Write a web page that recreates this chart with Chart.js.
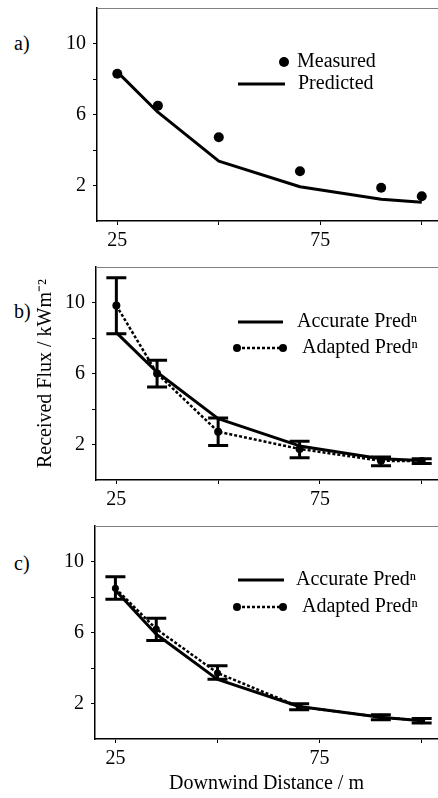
<!DOCTYPE html>
<html><head><meta charset="utf-8">
<script src="https://cdn.jsdelivr.net/npm/chart.js@4"></script>
<style>
html,body{margin:0;padding:0;background:#fff;}
body{width:438px;height:798px;position:relative;overflow:hidden;font-family:'Liberation Serif','Times New Roman',serif;}
.lbl{position:absolute;font-size:20px;line-height:24px;color:#000;}
canvas{position:absolute;left:0;}
</style></head><body>
<div class="lbl" style="left:14px;top:31px">a)</div>
<div class="lbl" style="left:14px;top:299px">b)</div>
<div class="lbl" style="left:14px;top:551px">c)</div>
<canvas id="ca" width="438" height="250" style="top:0px"></canvas>
<canvas id="cb" width="438" height="260" style="top:250px"></canvas>
<canvas id="cc" width="438" height="288" style="top:510px"></canvas>
<script>
// ---- data ----
const distances = [25, 35, 50, 70, 90, 100];
const measuredA = [8.3, 6.5, 4.72, 2.8, 1.87, 1.39];
const predictedA = [8.4, 6.13, 3.37, 1.93, 1.22, 1.06];
const accurateB = [8.3, 6.07, 3.46, 1.92, 1.2, 1.1];
const adaptedB = [9.83, 6.0, 2.72, 1.75, 1.08, 1.07];
const errLowB = [8.24, 5.24, 1.95, 1.25, 0.8, 0.93];
const errHighB = [11.4, 6.74, 3.5, 2.19, 1.29, 1.2];
const accurateC = [8.38, 5.9, 3.36, 1.83, 1.22, 1.03];
const adaptedC = [8.49, 6.2, 3.72, 1.82, 1.23, 1.03];
const errLowC = [7.88, 5.55, 3.36, 1.65, 1.09, 0.9];
const errHighC = [9.14, 6.8, 4.12, 1.98, 1.37, 1.16];
const xTickValues = [25, 50, 75, 100];
const xTickLabels = ['25', '', '75', ''];
const yTickValues = [2, 4, 6, 8, 10];
const yTickLabels = ['2', '', '6', '', '10'];
const seriesLabels = {measured: 'Measured', predicted: 'Predicted', accurate: 'Accurate Pred\u207F', adapted: 'Adapted Pred\u207F'};
const yTitle = 'Received Flux / kWm\u207B\u00B2';
const xTitle = 'Downwind Distance / m';

const FONT = {family: "'Liberation Serif', 'Times New Roman', serif", size: 20};
const pts = arr => distances.map((d, i) => ({x: d, y: arr[i]}));

const errorBarPlugin = {
  id: 'errorBars',
  afterDatasetsDraw(chart) {
    const {ctx, scales: {x, y}} = chart;
    chart.data.datasets.forEach(ds => {
      if (!ds.errorLow) return;
      ctx.save();
      ctx.strokeStyle = '#000'; ctx.lineWidth = 3; ctx.lineCap = 'butt';
      ds.data.forEach((p, i) => {
        const px = x.getPixelForValue(p.x);
        const pl = y.getPixelForValue(ds.errorLow[i]);
        const ph = y.getPixelForValue(ds.errorHigh[i]);
        ctx.beginPath();
        ctx.moveTo(px, pl); ctx.lineTo(px, ph);
        ctx.moveTo(px - 10, pl); ctx.lineTo(px + 10, pl);
        ctx.moveTo(px - 10, ph); ctx.lineTo(px + 10, ph);
        ctx.stroke();
      });
      ctx.restore();
    });
  }
};

const topBorderPlugin = {
  id: 'topBorder',
  afterDraw(chart) {
    const {ctx, chartArea: a} = chart;
    ctx.save(); ctx.strokeStyle = '#808080'; ctx.lineWidth = 1;
    ctx.beginPath(); ctx.moveTo(a.left, a.top + 0.5); ctx.lineTo(a.right, a.top + 0.5); ctx.stroke();
    ctx.restore();
  }
};

function legendPlugin(items) {
  return {
    id: 'customLegend',
    afterDraw(chart) {
      const ctx = chart.ctx;
      ctx.save();
      ctx.font = "20px 'Liberation Serif', 'Times New Roman', serif";
      ctx.fillStyle = '#000'; ctx.strokeStyle = '#000'; ctx.textBaseline = 'middle'; ctx.textAlign = 'left';
      items.forEach(it => {
        const label = chart.data.datasets[it.ds].label;
        if (it.type === 'dot') {
          ctx.beginPath(); ctx.arc(it.x2, it.y, 5, 0, 2 * Math.PI); ctx.fill();
        } else if (it.type === 'line') {
          ctx.lineWidth = 3; ctx.setLineDash([]);
          ctx.beginPath(); ctx.moveTo(it.x1, it.y); ctx.lineTo(it.x2, it.y); ctx.stroke();
        } else if (it.type === 'dashdot') {
          ctx.lineWidth = 2.5; ctx.setLineDash([3, 2]);
          ctx.beginPath(); ctx.moveTo(it.x1, it.y); ctx.lineTo(it.x2, it.y); ctx.stroke();
          ctx.setLineDash([]);
          ctx.beginPath(); ctx.arc(it.x1, it.y, 4, 0, 2 * Math.PI); ctx.fill();
          ctx.beginPath(); ctx.arc(it.x2, it.y, 4, 0, 2 * Math.PI); ctx.fill();
        }
        ctx.fillText(label, it.tx, it.y);
      });
      ctx.restore();
    }
  };
}

function makeChart(id, o) {
  return new Chart(document.getElementById(id), {
    type: 'line',
    data: {datasets: o.datasets},
    options: {
      responsive: false, animation: false, devicePixelRatio: 1,
      layout: {autoPadding: false, padding: {top: o.padTop, left: 0, right: 0, bottom: 0}},
      plugins: {legend: {display: false}, tooltip: {enabled: false}},
      elements: {line: {tension: 0, borderJoinStyle: 'round'}},
      scales: {
        x: {
          type: 'linear', min: 20, max: 104,
          afterBuildTicks: s => { s.ticks = xTickValues.map(v => ({value: v})); },
          afterFit: s => { s.height = o.xHeight; s.paddingLeft = 0; s.paddingRight = 0; },
          ticks: {callback: v => xTickLabels[xTickValues.indexOf(v)], font: FONT, color: '#000', padding: 4, maxRotation: 0, autoSkip: false},
          grid: {drawOnChartArea: false, drawTicks: true, tickLength: 4, color: '#000', lineWidth: 1},
          border: {display: true, color: '#000', width: 1.5},
          title: o.xTitle ? {display: true, text: o.xTitle, font: FONT, color: '#000', padding: {top: 0, bottom: 2}} : {display: false}
        },
        y: {
          type: 'linear', min: 0, max: 12,
          afterBuildTicks: s => { s.ticks = yTickValues.map(v => ({value: v})); },
          afterFit: s => { s.width = o.yWidth; s.paddingTop = 0; s.paddingBottom = 0; },
          ticks: {callback: v => yTickLabels[yTickValues.indexOf(v)], font: FONT, color: '#000', padding: 7, autoSkip: false},
          grid: {drawOnChartArea: false, drawTicks: true, tickLength: 4, color: '#000', lineWidth: 1},
          border: {display: true, color: '#000', width: 1.5},
          title: o.yTitle ? {display: true, text: o.yTitle, font: FONT, color: '#000', padding: {top: 34, bottom: 0}} : {display: false}
        }
      }
    },
    plugins: [errorBarPlugin, topBorderPlugin, legendPlugin(o.legend)]
  });
}

// Panel a
makeChart('ca', {
  padTop: 8, xHeight: 29, yWidth: 97,
  datasets: [
    {label: seriesLabels.predicted, data: pts(predictedA), borderColor: '#000', borderWidth: 3, pointRadius: 0},
    {label: seriesLabels.measured, data: pts(measuredA), showLine: false, pointRadius: 5, pointBackgroundColor: '#000', pointBorderWidth: 0, borderColor: '#000'}
  ],
  legend: [
    {ds: 1, type: 'dot', x2: 284, y: 62, tx: 297},
    {ds: 0, type: 'line', x1: 238, x2: 285, y: 84, tx: 298}
  ]
});

// Panel b
makeChart('cb', {
  padTop: 17, xHeight: 30, yWidth: 96, yTitle: yTitle,
  datasets: [
    {label: seriesLabels.accurate, data: pts(accurateB), borderColor: '#000', borderWidth: 3, pointRadius: 0},
    {label: seriesLabels.adapted, data: pts(adaptedB), borderColor: '#000', borderWidth: 2.5, borderDash: [3, 2], pointRadius: 4, pointBackgroundColor: '#000', pointBorderWidth: 0,
     errorLow: errLowB, errorHigh: errHighB}
  ],
  legend: [
    {ds: 0, type: 'line', x1: 238, x2: 283, y: 72, tx: 297},
    {ds: 1, type: 'dashdot', x1: 237, x2: 283, y: 98, tx: 302}
  ]
});

// Panel c
makeChart('cc', {
  padTop: 16, xHeight: 59, yWidth: 95, xTitle: xTitle,
  datasets: [
    {label: seriesLabels.accurate, data: pts(accurateC), borderColor: '#000', borderWidth: 3, pointRadius: 0},
    {label: seriesLabels.adapted, data: pts(adaptedC), borderColor: '#000', borderWidth: 2.5, borderDash: [3, 2], pointRadius: 3.5, pointBackgroundColor: '#000', pointBorderWidth: 0,
     errorLow: errLowC, errorHigh: errHighC}
  ],
  legend: [
    {ds: 0, type: 'line', x1: 238, x2: 284, y: 70, tx: 296},
    {ds: 1, type: 'dashdot', x1: 237, x2: 283, y: 97, tx: 302}
  ]
});
</script>
</body></html>
